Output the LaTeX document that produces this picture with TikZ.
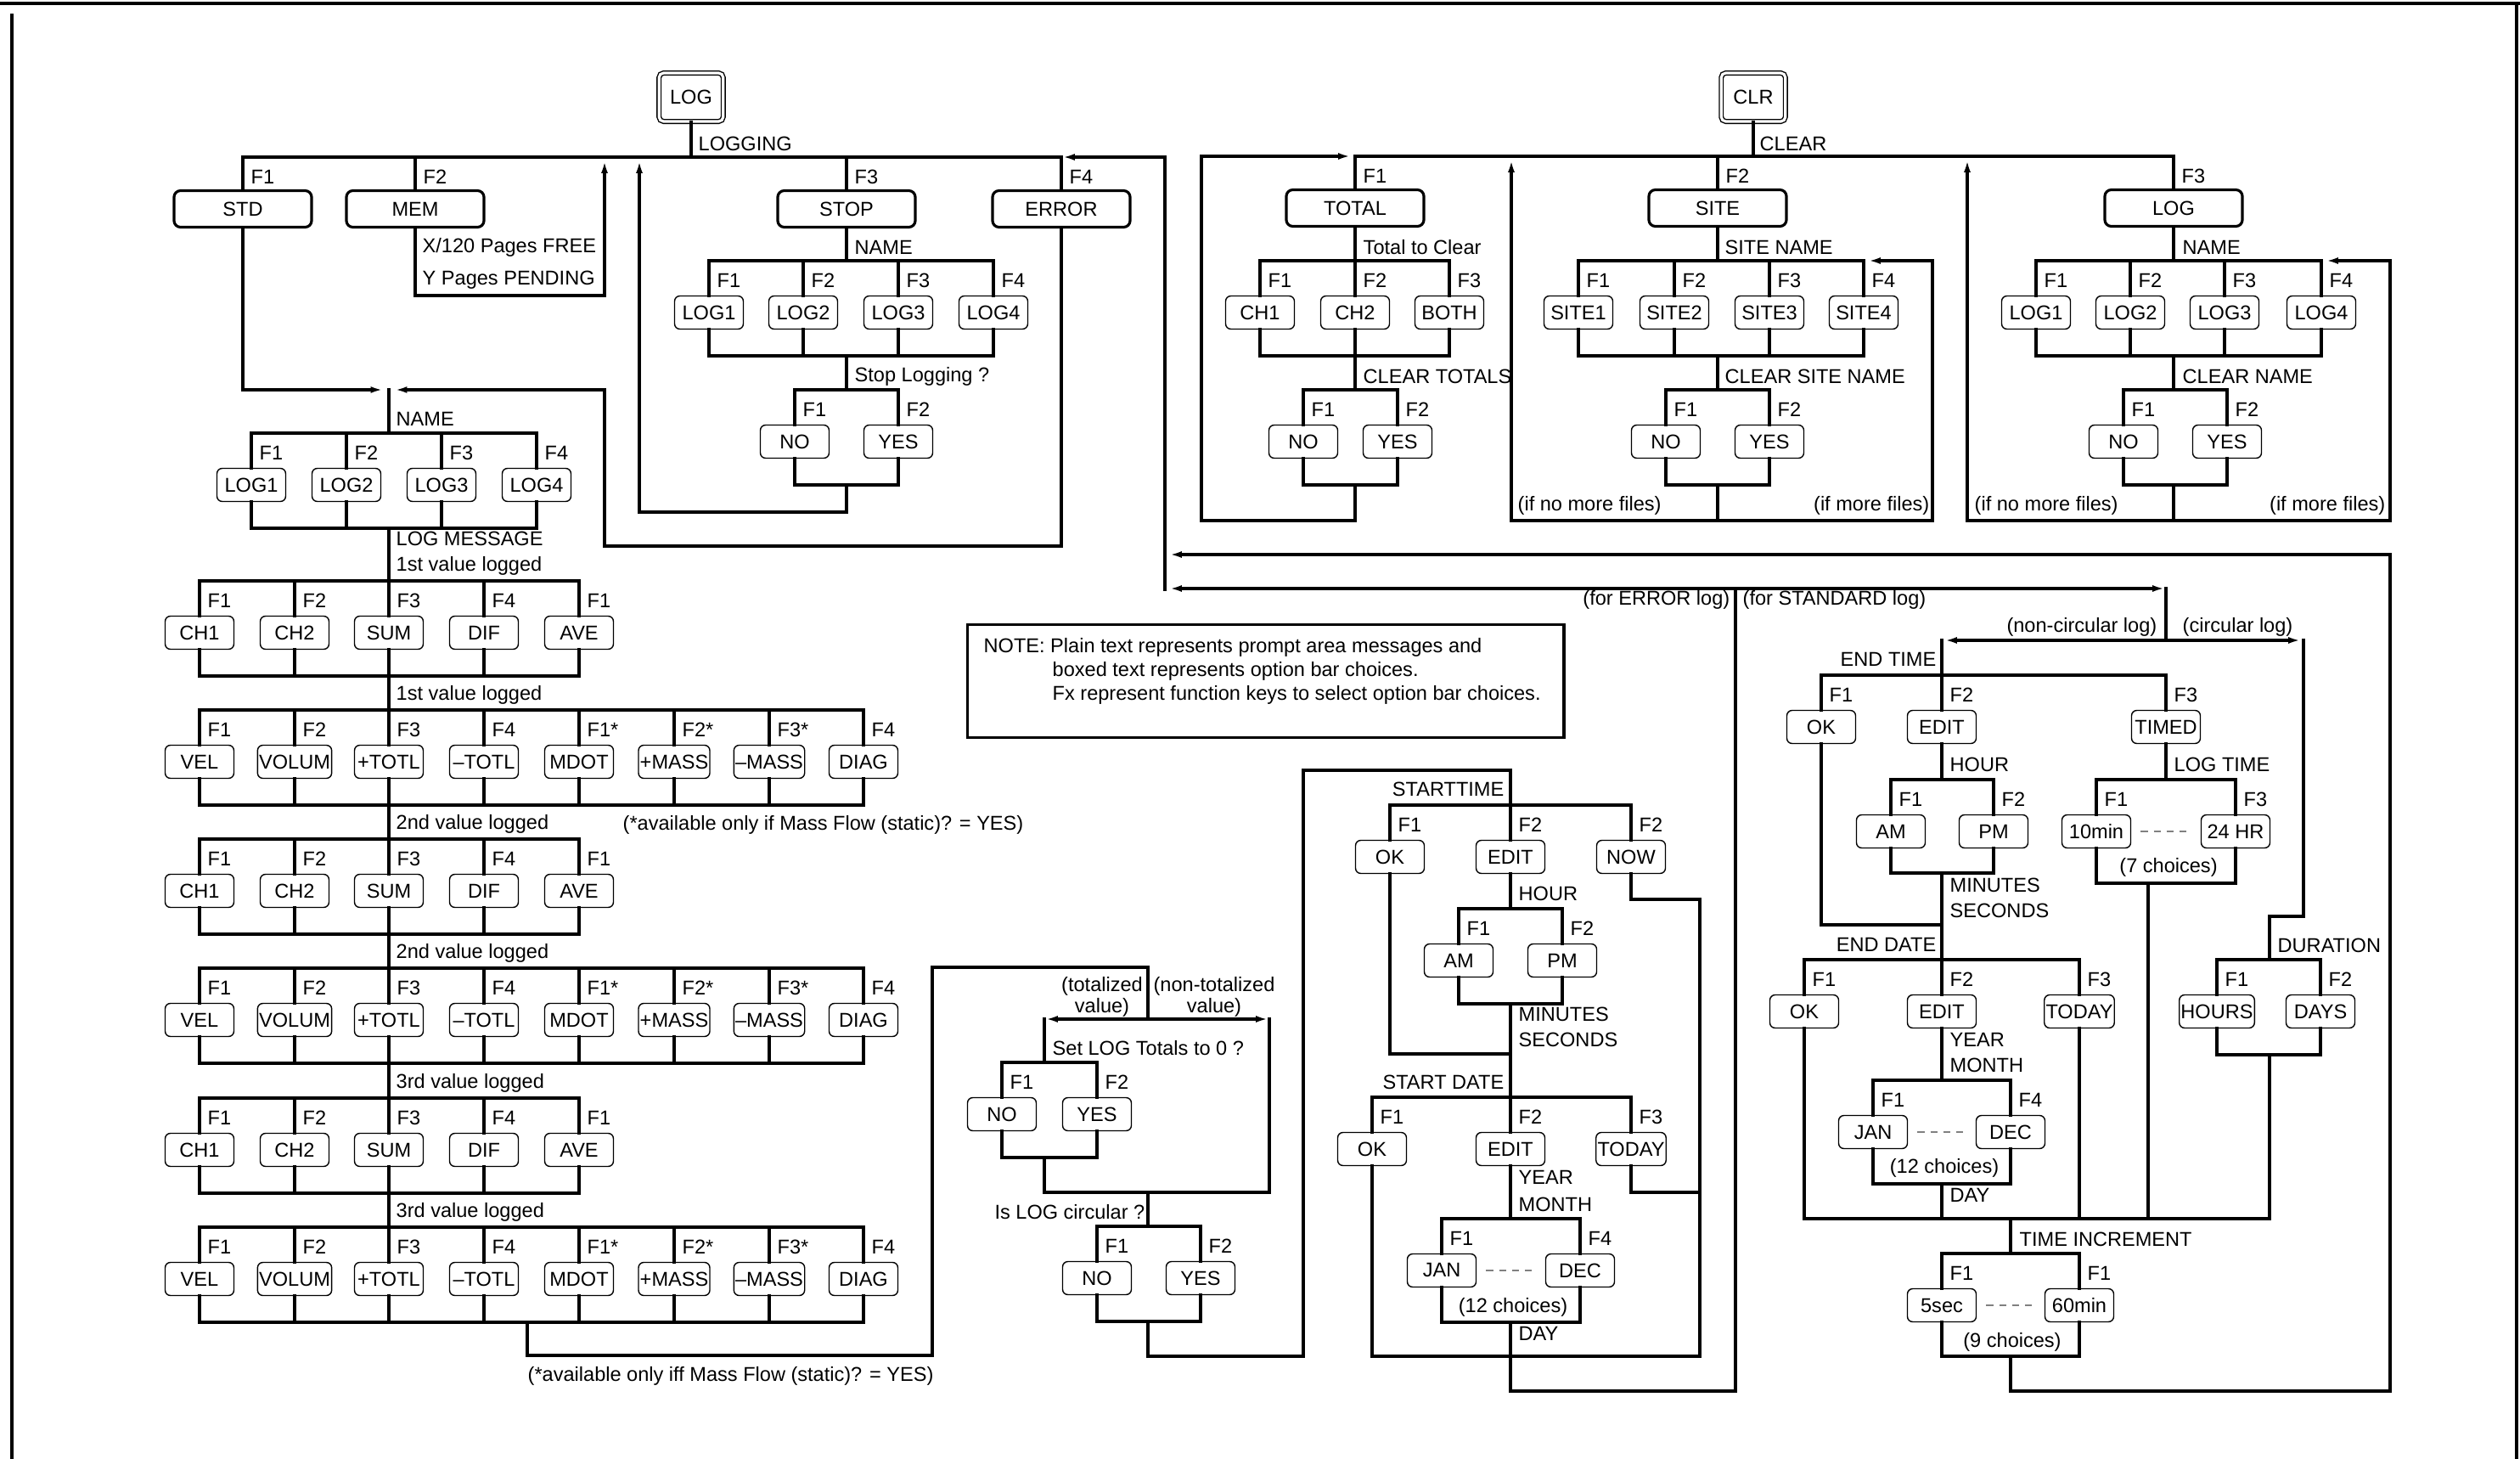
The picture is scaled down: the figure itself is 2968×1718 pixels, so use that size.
\documentclass[tikz,border=0pt]{standalone}
\usepackage{fontspec}
\setmainfont{Liberation Sans}
\usetikzlibrary{arrows.meta}
\tikzset{
  conn/.style   = {line width=1.2pt, line cap=rect},
  ret/.style    = {conn, -{Latex[length=4.5pt,width=2.2pt]}},
  optbox/.style = {draw, line width=0.4pt, rounded corners=1.8pt, minimum width=0.81cm,
                   minimum height=0.39cm, inner sep=0.5pt},
  bigbox/.style = {draw, line width=0.9pt, rounded corners=2.2pt, minimum width=1.62cm,
                   minimum height=0.43cm, inner sep=0.5pt},
  keybox/.style = {draw, double, double distance=0.9pt, line width=0.4pt, rounded corners=1.5pt,
                   minimum width=0.755cm, minimum height=0.57cm},
  fkey/.style   = {anchor=west, inner sep=0pt},
  msg/.style    = {anchor=west, inner sep=0pt},
  msgr/.style   = {anchor=east, inner sep=0pt},
  twoline/.style = {align=center, inner sep=0pt, font=\fontsize{6.7}{5.8}\selectfont},
  % the grey dashes between the first and the last of a run of choices
  dots/.style   = {gray, line width=0.5pt, dash pattern=on 2.3pt off 2pt,
                   shorten <=3.2pt, shorten >=4.2pt},
}
% a row of option boxes hanging from a bar at height #3; #4 is the depth of
% the bar that joins them below (0 = none)
\newcommand{\optrow}[5][optbox]{%
  \coordinate (#2-top) at (0,#3);
  \coordinate (#2-bot) at (0,#3+#4);
  \foreach \px/\lab/\fk [count=\i] in {#5} {
    \node[#1] (#2-\i) at (\px,#3+61) {\lab};
    \node[fkey] (#2-f\i) at (\px+9,#3+23) {\fk};
    \draw[conn] (#2-\i.north) -- (#2-\i.north |- #2-top);
    \ifnum#4>0 \draw[conn] (#2-\i.south) -- (#2-\i.south |- #2-bot);\fi
    \xdef\lastn{\i}
  }
  \draw[conn] (#2-1.north |- #2-top) -- (#2-\lastn.north |- #2-top);
  \ifnum#4>0 \draw[conn] (#2-1.south |- #2-bot) -- (#2-\lastn.south |- #2-bot);\fi
}

\begin{document}
\begin{tikzpicture}[x=0.01cm, y=-0.01cm, every node/.style={font=\fontsize{6.7}{8}\selectfont}]
\useasboundingbox (0,0) rectangle (2968,1718);
\draw[line width=1.2pt] (0,4) -- (2968,4);
\draw[line width=1.4pt] (14,16) -- (14,1718);
\draw[line width=1.4pt] (2964,4) -- (2964,1718);

% ---- LOG key
\node[keybox] (logkey) at (814,114.5) {LOG};
\optrow[bigbox]{lg}{185}{0}{286/STD/F1, 489/MEM/F2, 997/STOP/F3, 1250/ERROR/F4}
\draw[conn] (logkey) -- (logkey |- lg-top);
\node[msg] (logging) at (822,169) {LOGGING};

\node[msg] (pgfree) at (497,291) {X/120 Pages FREE};
\node[msg] (pgpend) at (497,330) {Y Pages PENDING};
\draw[ret] (lg-2.south) |- (712,348) -- (712,188);

\optrow{stopname}{307}{112}{835/LOG1/F1, 946/LOG2/F2, 1058/LOG3/F3, 1170/LOG4/F4}
\draw[conn] (lg-3.south) -- (lg-3.south |- stopname-top);
\node[msg] (stopnm) at (1006,291) {NAME};
\optrow{stopyn}{459}{112}{936/NO/F1, 1058/YES/F2}
\draw[conn] (stopname-bot -| lg-3) -- (stopyn-top -| lg-3);
\node[msg] (stopq) at (1006,443) {Stop Logging ?};
\draw[ret] (stopyn-bot -| lg-3) -- ++(0,32) -| (753,188);

\coordinate (namejoin) at (458,459);
\draw[ret, shorten >=1.6pt] (lg-1.south) |- (namejoin);
\draw[ret, shorten >=1.6pt] (lg-4.south) |- (712,643) |- (namejoin);

\optrow{name}{510}{112}{296/LOG1/F1, 408/LOG2/F2, 520/LOG3/F3, 632/LOG4/F4}
\draw[conn] (namejoin) -- (namejoin |- name-top);
\node[msg] (namenm) at (466,493) {NAME};
\node[msg] (logmsg) at (466,634) {LOG MESSAGE};

\foreach \r/\b/\ord in {a/684/1st, b/988/2nd, c/1293/3rd} {
  \optrow{ch\r}{\b}{112}{235/CH1/F1, 347/CH2/F2, 458/SUM/F3, 570/DIF/F4, 682/AVE/F1}
  \optrow{vel\r}{\b+152}{112}{235/VEL/F1, 347/VOLUM/F2, 458/+TOTL/F3, 570/--TOTL/F4,
    682/MDOT/F1*, 794/+MASS/F2*, 906/--MASS/F3*, 1017/DIAG/F4}
  \node[msg] (chmsg\r) at (466,\b-18) {\ord\ value logged};
  \node[msg] (velmsg\r) at (466,\b+134) {\ord\ value logged};
  \draw[conn] (ch\r-3 |- ch\r-bot) -- (vel\r-3 |- vel\r-top);
}
\draw[conn] (namejoin |- name-bot) -- (cha-3 |- cha-top);
\draw[conn] (vela-3 |- vela-bot) -- (chb-3 |- chb-top);
\draw[conn] (velb-3 |- velb-bot) -- (chc-3 |- chc-top);
\node[msg] (massnote) at (733,971) {(*available only if Mass Flow (static)? = YES)};
\node[msg] (massnote2) at (621,1620) {(*available only iff Mass Flow (static)? = YES)};

% ---- totals and circular
\coordinate (velout) at (621,1557);
\coordinate (totsplit) at (1352,1200);
\coordinate (totl) at (1230,1200);
\coordinate (ntotl) at (1495,1200);
\draw[conn] (velout) -- ++(0,39) -| (1098,1139) -| (totsplit);
\draw[ret] (totsplit) -- (totl);
\draw[ret] (totsplit) -- (ntotl);
\node[twoline] (totval) at (1298,1174) {(totalized\\value)};
\node[twoline] (ntotval) at (1430,1174) {(non-totalized\\value)};
\optrow{totyn}{1251}{112}{1180/NO/F1, 1292/YES/F2}
\draw[conn] (totl) -- (totl |- totyn-top);
\node[msg] (totq) at (1239,1234) {Set LOG Totals to 0 ?};
\coordinate (circjoin) at (1352,1404);
\draw[conn] (totl |- totyn-bot) |- (circjoin) -| (ntotl);
\optrow{circyn}{1444}{112}{1292/NO/F1, 1414/YES/F2}
\draw[conn] (circjoin) -- (circjoin |- circyn-top);
\node[msgr] (circq) at (1349,1427) {Is LOG circular ?};

% ---- start time and date
\optrow{stt}{948}{0}{1637/OK/F1, 1779/EDIT/F2, 1921/NOW/F2}
\draw[conn] (circjoin |- circyn-bot) -- ++(0,41) -| (1535,907) -| (stt-top -| stt-2);
\node[msgr] (sttlab) at (1772,929) {STARTTIME};
\optrow{sthr}{1070}{112}{1718/AM/F1, 1840/PM/F2}
\draw[conn] (stt-2.south) -- (stt-2.south |- sthr-top);
\draw[conn] (stt-1.south) |- (1779,1241);
\node[msg] (sthour) at (1788,1052) {HOUR};
\node[msg] (stmin) at (1788,1194) {MINUTES};
\node[msg] (stsec) at (1788,1224) {SECONDS};
\optrow{std}{1292}{0}{1616/OK/F1, 1779/EDIT/F2, 1921/TODAY/F3}
\draw[conn] (stt-2 |- sthr-bot) -- (std-2.north |- std-top);
\node[msgr] (stdlab) at (1772,1274) {START DATE};
\coordinate (stjoin) at (1779,1597);
\draw[conn] (stt-3.south) |- (2002,1059) |- (stjoin -| std-1);
\draw[conn] (std-1.south) -- (std-1.south |- stjoin);
\draw[conn] (std-3.south) |- (2002,1404);
\optrow{stmon}{1435}{122}{1698/JAN/F1, 1861/DEC/F4}
\draw[conn] (std-2.south) -- (std-2.south |- stmon-top);
\draw[dots] (stmon-1.east) -- (stmon-2.west);
\node[msg] (styear) at (1788,1386) {YEAR};
\node[msg] (stmonth) at (1788,1418) {MONTH};
\node (stmonn) at (1782,1539) {(12 choices)};
\node[msg] (stday) at (1788,1570) {DAY};
\coordinate (logsplit) at (2044,693);
\draw[conn] (std-2 |- stmon-bot) -- (1779,1638) -| (logsplit);
\node[msgr] (forerr) at (2038,706) {(for ERROR log)};
\node[msg] (forstd) at (2052,706) {(for STANDARD log)};

% ---- back to LOGGING
\coordinate (errret) at (1372,694);
\draw[ret] (logsplit) -- (1376,693);
\draw[ret] (errret) -- (errret |- lg-top) -- (lg-top -| lg-4);

% ---- end time and date
\coordinate (circsplit) at (2551,754);
\draw[ret] (logsplit) -- (circsplit |- logsplit);
\draw[conn] (circsplit |- logsplit) -- (circsplit);
\draw[ret] (circsplit) -- (2289,754);
\draw[ret] (circsplit) -- (2711,754);
\node[msgr] (noncirc) at (2541,738) {(non-circular log)};
\node[msg] (circ) at (2570,738) {(circular log)};
\optrow{ett}{795}{0}{2145/OK/F1, 2287/EDIT/F2, 2551/TIMED/F3}
\draw[conn] (ett-2.north |- circsplit) -- (ett-2.north |- ett-top);
\node[msgr] (ettlab) at (2281,776) {END TIME};
\optrow{ethr}{918}{110}{2227/AM/F1, 2348/PM/F2}
\draw[conn] (ett-2.south) -- (ett-2.south |- ethr-top);
\draw[conn] (ett-1.south) |- (2287,1089);
\node[msg] (ethour) at (2296,900) {HOUR};
\node[msg] (etmin) at (2296,1042) {MINUTES};
\node[msg] (etsec) at (2296,1072) {SECONDS};
\optrow{etlog}{918}{122}{2469/10min/F1, 2633/24 HR/F3}
\draw[conn] (ett-3.south) -- (ett-3.south |- etlog-top);
\draw[dots] (etlog-1.east) -- (etlog-2.west);
\node[msg] (etlogtime) at (2560,900) {LOG TIME};
\node (etlogn) at (2554,1021) {(7 choices)};
\optrow{etd}{1130}{0}{2125/OK/F1, 2287/EDIT/F2, 2449/TODAY/F3}
\draw[conn] (ett-2 |- ethr-bot) -- (etd-2.north |- etd-top);
\node[msgr] (etdlab) at (2281,1112) {END DATE};
\optrow{etmon}{1272}{122}{2206/JAN/F1, 2368/DEC/F4}
\draw[conn] (etd-2.south) -- (etd-2.south |- etmon-top);
\draw[dots] (etmon-1.east) -- (etmon-2.west);
\node[msg] (etyear) at (2296,1224) {YEAR};
\node[msg] (etmonth) at (2296,1254) {MONTH};
\node (etmonn) at (2290,1375) {(12 choices)};
\node[msg] (etday) at (2296,1407) {DAY};

\coordinate (durstem) at (2673,1079);
\draw[conn] (2713,754) |- (durstem);
\optrow{dur}{1130}{112}{2611/HOURS/F1, 2733/DAYS/F2}
\draw[conn] (durstem) -- (durstem |- dur-top);
\node[msg] (durlab) at (2682,1113) {DURATION};

\coordinate (incjoin) at (2368,1435);
\coordinate (logtimeout) at (2530,1040);
\draw[conn] (etd-1.south) |- (incjoin) -| (durstem |- dur-bot);
\draw[conn] (etd-2 |- etmon-bot) -- (etd-2 |- incjoin);
\draw[conn] (etd-3.south) -- (etd-3.south |- incjoin);
\draw[conn] (logtimeout) -- (logtimeout |- incjoin);
\optrow{inc}{1476}{121}{2287/5sec/F1, 2449/60min/F1}
\draw[conn] (incjoin) -- (incjoin |- inc-top);
\draw[dots] (inc-1.east) -- (inc-2.west);
\node[msg] (inclab) at (2378,1459) {TIME INCREMENT};
\node (incn) at (2370,1580) {(9 choices)};
\draw[ret] (incjoin |- inc-bot) -- ++(0,41) -| (2815,653) -- (1376,653);

% ---- CLR key
\node[keybox] (clrkey) at (2065,114.5) {CLR};
\optrow[bigbox]{clr}{184}{0}{1596/TOTAL/F1, 2023/SITE/F2, 2560/LOG/F3}
\draw[conn] (clrkey) -- (clrkey |- clr-top);
\node[msg] (clear) at (2072,169) {CLEAR};

\optrow{tot}{307}{112}{1484/CH1/F1, 1596/CH2/F2, 1707/BOTH/F3}
\draw[conn] (clr-1.south) -- (clr-1.south |- tot-top);
\node[msg] (totclr) at (1605,291) {Total to Clear};
\optrow{totcl}{459}{112}{1535/NO/F1, 1646/YES/F2}
\draw[conn] (clr-1 |- tot-bot) -- (clr-1 |- totcl-top);
\node[msg] (totclq) at (1605,443) {CLEAR TOTALS};
\draw[ret] (clr-1 |- totcl-bot) -- ++(0,42) -| (1415,184) -- (1592,184);

\optrow{site}{307}{112}{1859/SITE1/F1, 1972/SITE2/F2, 2084/SITE3/F3, 2195/SITE4/F4}
\draw[conn] (clr-2.south) -- (clr-2.south |- site-top);
\node[msg] (sitenm) at (2031,291) {SITE NAME};
\optrow{sitecl}{459}{112}{1962/NO/F1, 2084/YES/F2}
\draw[conn] (clr-2 |- site-bot) -- (clr-2 |- sitecl-top);
\node[msg] (siteclq) at (2031,443) {CLEAR SITE NAME};
\draw[conn] (clr-2 |- sitecl-bot) -- ++(0,42) coordinate (siteret);
\draw[ret] (siteret) -| (1780,187);
\draw[ret] (siteret) -| (2276,307) -- (2199,307);
\node[msg] (sitenomore) at (1787,595) {(if no more files)};
\node[msgr] (sitemore) at (2273,595) {(if more files)};

\optrow{clog}{307}{112}{2398/LOG1/F1, 2509/LOG2/F2, 2620/LOG3/F3, 2734/LOG4/F4}
\draw[conn] (clr-3.south) -- (clr-3.south |- clog-top);
\node[msg] (clognm) at (2570,291) {NAME};
\optrow{clogcl}{459}{112}{2501/NO/F1, 2623/YES/F2}
\draw[conn] (clr-3 |- clog-bot) -- (clr-3 |- clogcl-top);
\node[msg] (clogclq) at (2570,443) {CLEAR NAME};
\draw[conn] (clr-3 |- clogcl-bot) -- ++(0,42) coordinate (logret);
\draw[ret] (logret) -| (2317,187);
\draw[ret] (logret) -| (2815,307) -- (2738,307);
\node[msg] (lognomore) at (2325,595) {(if no more files)};
\node[msgr] (logmore) at (2810,595) {(if more files)};

% ---- note
\node[draw, line width=0.9pt, minimum width=7.02cm, minimum height=1.33cm, anchor=north west]
  (note) at (1138,734) {};
\node[msg] (note1) at (1158,762) {NOTE: Plain text represents prompt area messages and};
\node[msg] (note2) at (1239,790) {boxed text represents option bar choices.};
\node[msg] (note3) at (1239,818) {Fx represent function keys to select option bar choices.};
\end{tikzpicture}
\end{document}
